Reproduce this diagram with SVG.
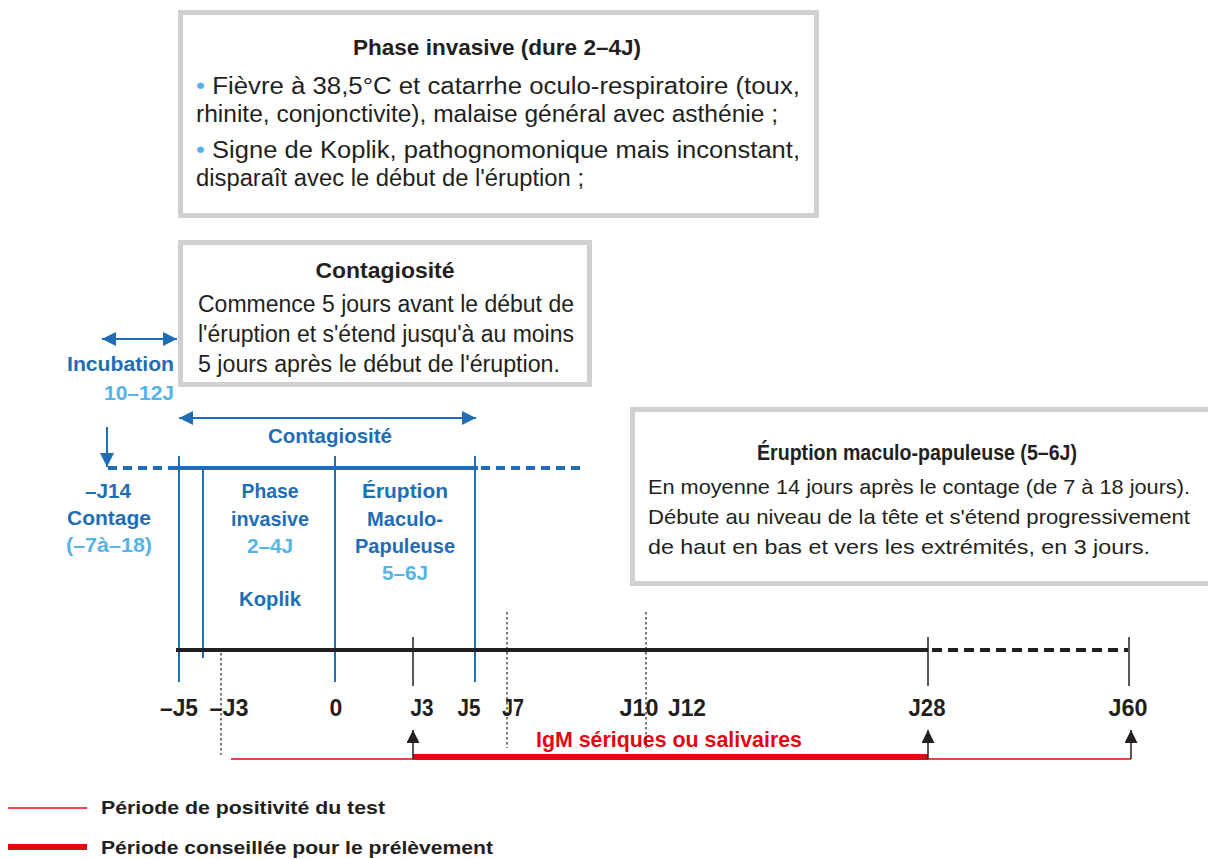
<svg xmlns="http://www.w3.org/2000/svg" width="1208" height="859" viewBox="0 0 1208 859">
<style>
text{font-family:"Liberation Sans",Arial,sans-serif}
.box{fill:#fff;stroke:#d0d0d0;stroke-width:5}
.ttl{font-weight:bold;font-size:22px;fill:#231f20;text-anchor:middle}
.bd{font-size:23px;fill:#231f20}
.bd2{font-size:21px;fill:#231f20}
.bl{font-weight:bold;font-size:21px;fill:#1f6db4;text-anchor:middle}
.lb{font-weight:bold;font-size:21px;fill:#55b3e6;text-anchor:middle}
.tk{font-weight:bold;font-size:23px;fill:#231f20;text-anchor:middle}
.lg{font-weight:bold;font-size:19px;fill:#231f20}
.dot{fill:#55b3e6}
.vb{stroke:#1f6db4;stroke-width:2;fill:none}
</style>
<defs>
<marker id="ab" viewBox="0 0 10 10" refX="10" refY="5" markerWidth="14" markerHeight="14" markerUnits="userSpaceOnUse" orient="auto-start-reverse"><path d="M0,0 L10,5 L0,10 z" fill="#1f6db4"/></marker>
<marker id="ak" viewBox="0 0 10 10" refX="10" refY="5" markerWidth="14" markerHeight="13" markerUnits="userSpaceOnUse" orient="auto"><path d="M0,0 L10,5 L0,10 z" fill="#231f20"/></marker>
</defs>

<g id="box-phase">
<rect class="box" x="180.5" y="12.5" width="636" height="203"/>
<text class="ttl" x="497" y="55" textLength="288" lengthAdjust="spacingAndGlyphs">Phase invasive (dure 2–4J)</text>
<text class="bd" x="196" y="94" textLength="604" lengthAdjust="spacingAndGlyphs"><tspan class="dot">•</tspan> Fièvre à 38,5°C et catarrhe oculo-respiratoire (toux,</text>
<text class="bd" x="196" y="122" textLength="582" lengthAdjust="spacingAndGlyphs">rhinite, conjonctivite), malaise général avec asthénie ;</text>
<text class="bd" x="196" y="158" textLength="604" lengthAdjust="spacingAndGlyphs"><tspan class="dot">•</tspan> Signe de Koplik, pathognomonique mais inconstant,</text>
<text class="bd" x="196" y="186" textLength="388" lengthAdjust="spacingAndGlyphs">disparaît avec le début de l'éruption ;</text>
</g>

<g id="box-contagiosite">
<rect class="box" x="180.5" y="242.5" width="409" height="142"/>
<text class="ttl" x="385" y="278" textLength="139" lengthAdjust="spacingAndGlyphs">Contagiosité</text>
<text class="bd" x="198" y="312" textLength="376" lengthAdjust="spacingAndGlyphs">Commence 5 jours avant le début de</text>
<text class="bd" x="198" y="342" textLength="376" lengthAdjust="spacingAndGlyphs">l'éruption et s'étend jusqu'à au moins</text>
<text class="bd" x="198" y="372" textLength="362" lengthAdjust="spacingAndGlyphs">5 jours après le début de l'éruption.</text>
</g>

<g id="box-eruption">
<rect class="box" x="632.5" y="409.5" width="580" height="174"/>
<text class="ttl" x="917" y="460" textLength="320" lengthAdjust="spacingAndGlyphs">Éruption maculo-papuleuse (5–6J)</text>
<text class="bd2" x="648" y="494" textLength="542" lengthAdjust="spacingAndGlyphs">En moyenne 14 jours après le contage (de 7 à 18 jours).</text>
<text class="bd2" x="648" y="524" textLength="542" lengthAdjust="spacingAndGlyphs">Débute au niveau de la tête et s'étend progressivement</text>
<text class="bd2" x="648" y="554" textLength="502" lengthAdjust="spacingAndGlyphs">de haut en bas et vers les extrémités, en 3 jours.</text>
</g>

<g id="incubation">
<text class="bl" x="174" y="371" style="text-anchor:end" textLength="107" lengthAdjust="spacingAndGlyphs">Incubation</text>
<text class="lb" x="174" y="400" style="text-anchor:end" textLength="70" lengthAdjust="spacingAndGlyphs">10–12J</text>
</g>

<g id="contage">
<text class="bl" x="108" y="498" textLength="46" lengthAdjust="spacingAndGlyphs">–J14</text>
<text class="bl" x="109" y="525" textLength="84" lengthAdjust="spacingAndGlyphs">Contage</text>
<text class="lb" x="109" y="552" textLength="86" lengthAdjust="spacingAndGlyphs">(–7à–18)</text>
</g>

<g id="contagiosite-label">
<text class="bl" x="330" y="443" textLength="124" lengthAdjust="spacingAndGlyphs">Contagiosité</text>
</g>

<g id="phase-invasive">
<text class="bl" x="270" y="498" textLength="57" lengthAdjust="spacingAndGlyphs">Phase</text>
<text class="bl" x="270" y="526" textLength="78" lengthAdjust="spacingAndGlyphs">invasive</text>
<text class="lb" x="270" y="553" textLength="46" lengthAdjust="spacingAndGlyphs">2–4J</text>
<text class="bl" x="270" y="606" textLength="62" lengthAdjust="spacingAndGlyphs">Koplik</text>
</g>

<g id="eruption-label">
<text class="bl" x="405" y="498" textLength="86" lengthAdjust="spacingAndGlyphs">Éruption</text>
<text class="bl" x="405" y="526" textLength="76" lengthAdjust="spacingAndGlyphs">Maculo-</text>
<text class="bl" x="405" y="553" textLength="100" lengthAdjust="spacingAndGlyphs">Papuleuse</text>
<text class="lb" x="405" y="580" textLength="46" lengthAdjust="spacingAndGlyphs">5–6J</text>
</g>

<g id="axis-labels">
<text class="tk" x="179" y="716" textLength="38" lengthAdjust="spacingAndGlyphs">–J5</text>
<text class="tk" x="229" y="716" textLength="39" lengthAdjust="spacingAndGlyphs">–J3</text>
<text class="tk" x="336" y="716">0</text>
<text class="tk" x="422" y="716" textLength="23" lengthAdjust="spacingAndGlyphs">J3</text>
<text class="tk" x="469" y="716" textLength="23" lengthAdjust="spacingAndGlyphs">J5</text>
<text class="tk" x="513" y="716" textLength="22" lengthAdjust="spacingAndGlyphs">J7</text>
<text class="tk" x="639" y="716" textLength="39" lengthAdjust="spacingAndGlyphs">J10</text>
<text class="tk" x="687" y="716" textLength="38" lengthAdjust="spacingAndGlyphs">J12</text>
<text class="tk" x="927" y="716" textLength="37" lengthAdjust="spacingAndGlyphs">J28</text>
<text class="tk" x="1128" y="716" textLength="39" lengthAdjust="spacingAndGlyphs">J60</text>
<text x="669" y="747" style="font-weight:bold;font-size:22px;fill:#e30613;text-anchor:middle" textLength="266" lengthAdjust="spacingAndGlyphs">IgM sériques ou salivaires</text>
</g>

<g id="connectors">
<line x1="102" y1="339" x2="177" y2="339" stroke="#1f6db4" stroke-width="2" marker-start="url(#ab)" marker-end="url(#ab)"/>
<line x1="107" y1="427" x2="107" y2="467" stroke="#1f6db4" stroke-width="2" marker-end="url(#ab)"/>
<line x1="179" y1="418" x2="476" y2="418" stroke="#1f6db4" stroke-width="2" marker-start="url(#ab)" marker-end="url(#ab)"/>
<line x1="108" y1="468" x2="178" y2="468" stroke="#1f6db4" stroke-width="4" stroke-dasharray="9,6"/>
<line x1="175" y1="468" x2="478" y2="468" stroke="#1f6db4" stroke-width="4"/>
<line x1="481" y1="468" x2="585" y2="468" stroke="#1f6db4" stroke-width="4" stroke-dasharray="9,6"/>
<line class="vb" x1="179" y1="456" x2="179" y2="682"/>
<line class="vb" x1="203" y1="468" x2="203" y2="658"/>
<line class="vb" x1="335" y1="456" x2="335" y2="682"/>
<line class="vb" x1="475" y1="456" x2="475" y2="682"/>
<line x1="176" y1="650" x2="928" y2="650" stroke="#231f20" stroke-width="4"/>
<line x1="932" y1="650" x2="1128" y2="650" stroke="#231f20" stroke-width="4" stroke-dasharray="10,6"/>
<line x1="413" y1="637" x2="413" y2="686" stroke="#231f20" stroke-width="1.5"/>
<line x1="928" y1="637" x2="928" y2="686" stroke="#231f20" stroke-width="1.5"/>
<line x1="1129" y1="637" x2="1129" y2="686" stroke="#231f20" stroke-width="1.5"/>
<line x1="221" y1="653" x2="221" y2="755" stroke="#231f20" stroke-width="1.2" stroke-dasharray="2.5,2.5"/>
<line x1="507" y1="612" x2="507" y2="748" stroke="#231f20" stroke-width="1.2" stroke-dasharray="2.5,2.5"/>
<line x1="646" y1="612" x2="646" y2="748" stroke="#231f20" stroke-width="1.2" stroke-dasharray="2.5,2.5"/>
<line x1="231" y1="759" x2="413" y2="759" stroke="#e30613" stroke-width="1.5"/>
<line x1="413" y1="757" x2="928" y2="757" stroke="#e30613" stroke-width="6"/>
<line x1="928" y1="759" x2="1131" y2="759" stroke="#e30613" stroke-width="1.5"/>
<line x1="413" y1="759" x2="413" y2="730" stroke="#231f20" stroke-width="1.5" marker-end="url(#ak)"/>
<line x1="928" y1="759" x2="928" y2="730" stroke="#231f20" stroke-width="1.5" marker-end="url(#ak)"/>
<line x1="1131" y1="759" x2="1131" y2="730" stroke="#231f20" stroke-width="1.5" marker-end="url(#ak)"/>
</g>

<g id="legend">
<line x1="8" y1="808" x2="87" y2="808" stroke="#e30613" stroke-width="1.5"/>
<text class="lg" x="101" y="814" textLength="284" lengthAdjust="spacingAndGlyphs">Période de positivité du test</text>
<line x1="8" y1="847" x2="87" y2="847" stroke="#e30613" stroke-width="6"/>
<text class="lg" x="101" y="854" textLength="392" lengthAdjust="spacingAndGlyphs">Période conseillée pour le prélèvement</text>
</g>
</svg>
